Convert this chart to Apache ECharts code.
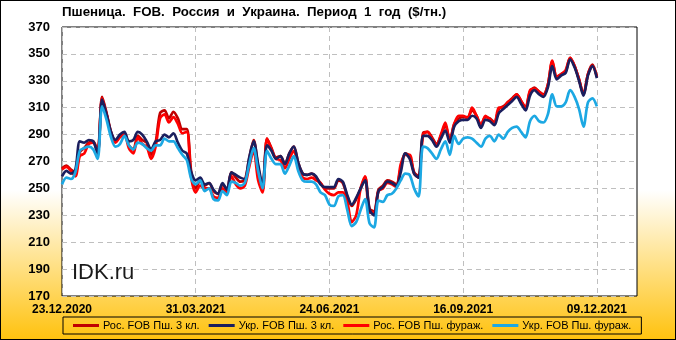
<!DOCTYPE html>
<html>
<head>
<meta charset="utf-8">
<script src="https://cdn.jsdelivr.net/npm/echarts@6/dist/echarts.min.js"></script>
<style>
  html, body { margin: 0; padding: 0; }
  #wrap { position: relative; width: 676px; height: 340px; }
  #chart { width: 676px; height: 340px; }
  #frame { position: absolute; left: 0; top: 0; width: 676px; height: 340px; box-sizing: border-box; border: 1px solid #000; pointer-events: none; }
</style>
</head>
<body>
<div id="wrap">
  <div id="chart"></div>
  <div id="frame"></div>
</div>
<script>
// tick labels every 30 slots, axis runs a bit past the last value
const tickLabels = ['23.12.2020', '31.03.2021', '24.06.2021', '16.09.2021', '09.12.2021'];
const step = 30;
const totalSlots = 130;
const categories = Array.from({ length: totalSlots }, (_, i) => 'p' + i);

const seriesNames = ['Рос. FOB Пш. 3 кл.', 'Укр. FOB Пш. 3 кл.', 'Рос. FOB Пш. фураж.', 'Укр. FOB Пш. фураж.'];

const rusClass3 = [
  265, 267, 264, 262, 277, 280, 284, 285, 278, 318,
  306, 292, 285, 289, 291, 282, 279, 289, 286, 284,
  275, 284, 306, 308, 302, 307, 302, 294, 294, 262,
  250, 256, 252, 254, 248, 246, 253, 249, 262, 258,
  255, 256, 272, 286, 266, 250, 287, 280, 273, 274,
  268, 276, 281, 269, 261, 260, 261, 258, 254, 250,
  250, 250, 256, 254, 244, 237, 242, 250, 258, 235,
  233, 249, 252, 256, 255, 253, 265, 276, 274, 262,
  259, 291, 292, 288, 283, 289, 297, 286, 298, 302,
  303, 303, 308, 304, 297, 303, 302, 299, 309, 311,
  314, 317, 320, 315, 310, 322, 325, 322, 320, 327,
  344, 333, 335, 337, 347, 341, 331, 320, 335, 342,
  333
];

const ukrClass3 = [
  259, 263, 261, 264, 285, 284, 286, 285, 276, 316,
  305, 292, 286, 290, 292, 285, 286, 292, 290, 285,
  279, 285, 286, 290, 288, 291, 284, 278, 276, 262,
  256, 258, 253, 254, 249, 246, 254, 249, 262, 260,
  258, 257, 273, 285, 268, 252, 282, 278, 272, 274,
  268, 276, 281, 269, 261, 260, 261, 259, 253, 251,
  251, 251, 257, 255, 245, 238, 243, 250, 256, 234,
  230, 248, 251, 255, 254, 252, 262, 276, 272, 261,
  258, 289, 289, 286, 281, 287, 293, 284, 296, 300,
  301, 301, 304, 302, 295, 301, 300, 297, 306, 309,
  312, 315, 318, 313, 308, 319, 323, 320, 318, 325,
  341, 331, 334, 336, 346, 340, 330, 319, 334, 341,
  332
];

const rusFeed = [
  264, 266, 263, 259, 274, 276, 283, 284, 276, 317,
  305, 291, 284, 288, 290, 280, 276, 288, 283, 281,
  272, 281, 302, 305, 299, 303, 298, 291, 292, 258,
  247, 252, 250, 250, 244, 243, 250, 247, 259, 253,
  250, 252, 266, 278, 256, 247, 287, 279, 272, 271,
  265, 272, 278, 266, 258, 257, 258, 256, 254, 249,
  246, 245, 247, 247, 240, 225, 230, 250, 259, 232,
  232, 248, 250, 254, 253, 251, 268, 275, 275, 261,
  258, 290, 292, 287, 282, 290, 299, 285, 298, 304,
  304, 302, 310, 304, 297, 304, 301, 298, 310, 310,
  314, 316, 320, 315, 310, 323, 324, 322, 319, 327,
  345, 333, 335, 338, 347, 341, 331, 320, 335, 341,
  333
];

const ukrFeed = [
  253, 258, 257, 262, 278, 280, 281, 279, 272, 311,
  301, 288, 281, 283, 289, 282, 279, 284, 283, 280,
  278, 282, 282, 287, 285, 285, 280, 275, 271, 257,
  253, 256, 248, 250, 242, 241, 248, 245, 255, 254,
  252, 254, 268, 280, 263, 250, 278, 272, 268, 268,
  261, 267, 274, 263, 256, 255, 255, 253, 247, 245,
  238, 237, 244, 245, 234, 222, 225, 234, 242, 224,
  221, 241, 240, 245, 246, 250, 256, 261, 260, 250,
  244, 281, 280, 276, 272, 279, 285, 275, 289, 283,
  287, 288, 287, 284, 281, 287, 289, 285, 290, 287,
  292, 295, 296, 292, 288, 300, 304, 300, 299, 305,
  320, 311, 311, 314, 323, 318, 309, 296, 314, 317,
  311
];

const colors = ['#C00000', '#1B1F5E', '#FF0000', '#1CA8E3'];
const fontFamily = '"Liberation Sans", Arial, sans-serif';

const chart = echarts.init(document.getElementById('chart'));

const mkSeries = (name, data, color, z) => ({
  name,
  type: 'line',
  data,
  symbol: 'none',
  smooth: 0.3,
  z,
  lineStyle: { width: 2.7, color },
  itemStyle: { color },
});

const option = {
  animation: false,
  backgroundColor: {
    type: 'linear', x: 0, y: 0, x2: 0, y2: 1,
    colorStops: [
      { offset: 0, color: '#ffffff' },
      { offset: 0.56, color: '#ffffff' },
      { offset: 1, color: '#FFC20E' },
    ],
  },
  title: {
    text: 'Пшеница.  FOB.  Россия  и  Украина.  Период  1  год  ($/тн.)',
    left: 62,
    top: 6,
    padding: 0,
    textStyle: { fontSize: 13.3, fontWeight: 'bold', color: '#000', fontFamily },
  },
  grid: {
    left: 62, right: 39, top: 27, bottom: 44,
    show: true,
    backgroundColor: '#ffffff',
    borderColor: '#000',
    borderWidth: 1,
  },
  legend: {
    data: seriesNames,
    left: 63,
    top: 317,
    width: 600,
    icon: 'rect',
    padding: [3, 10, 3, 10],
    itemGap: 9,
    itemWidth: 26,
    itemHeight: 3,
    borderColor: '#000',
    borderWidth: 1,
    textStyle: { fontSize: 11, color: '#000', fontFamily, padding: [0, 0, 0, -1] },
  },
  xAxis: {
    type: 'category',
    data: categories,
    boundaryGap: false,
    axisLine: { show: false },
    axisTick: { show: false },
    axisLabel: {
      interval: (i) => i % step === 0,
      formatter: (v, i) => tickLabels[i / step] || '',
      margin: 8,
      fontSize: 12,
      fontWeight: 'bold',
      color: '#000',
      fontFamily,
    },
    splitLine: {
      show: true,
      interval: (i) => i % step === 0,
      lineStyle: { color: '#BFBFBF', type: [5, 4], width: 1 },
    },
  },
  yAxis: {
    type: 'value',
    min: 170,
    max: 370,
    interval: 20,
    axisLine: { show: false },
    axisTick: { show: false },
    axisLabel: { fontSize: 13, fontWeight: 'bold', color: '#000', margin: 12, fontFamily },
    splitLine: { lineStyle: { color: '#BFBFBF', type: [5, 4], width: 1 } },
  },
  graphic: [
    {
      type: 'text',
      left: 72,
      top: 262,
      z: 1,
      style: { text: 'IDK.ru', fontSize: 22, fill: '#1a1a1a', fontFamily },
    },
  ],
  series: [
    mkSeries(seriesNames[0], rusClass3, colors[0], 2),
    mkSeries(seriesNames[2], rusFeed, colors[2], 3),
    mkSeries(seriesNames[1], ukrClass3, colors[1], 4),
    mkSeries(seriesNames[3], ukrFeed, colors[3], 5),
  ],
};

chart.setOption(option);
</script>
</body>
</html>
